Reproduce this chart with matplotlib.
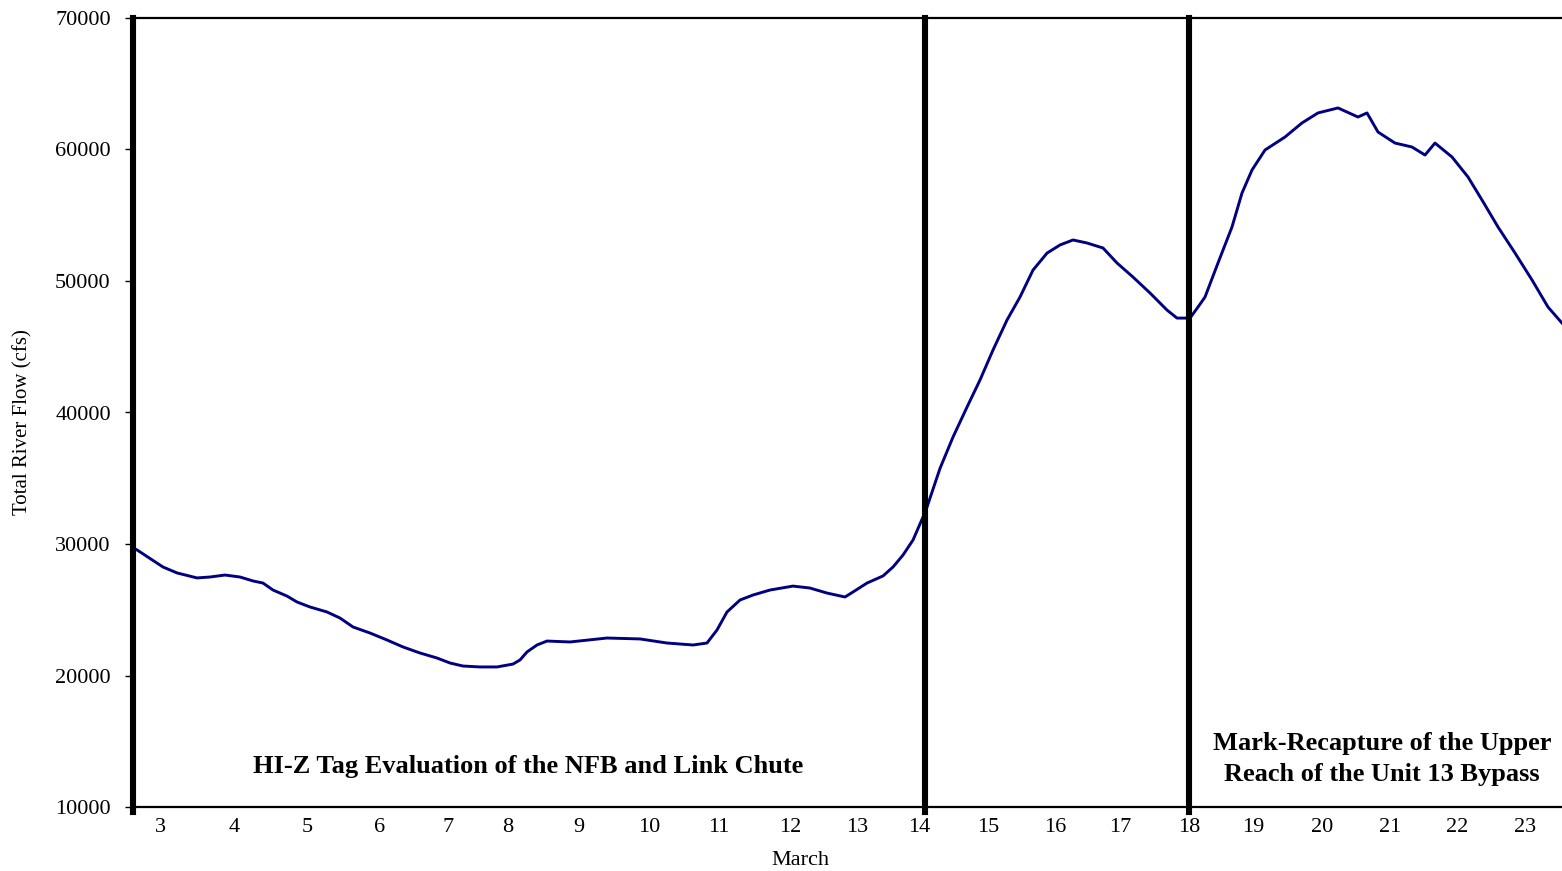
import matplotlib
matplotlib.use('Agg')
import matplotlib.pyplot as plt

# reading index along the record (axis spans 0..1429) and total flow in cfs
reading = [0, 4, 17, 30, 44, 64, 77, 92, 107, 120, 130, 140, 154, 164, 177, 194,
           207, 220, 237, 254, 270, 287, 304, 317, 330, 347, 364, 380, 387, 394,
           404, 414, 437, 474, 507, 534, 560, 574, 584, 594, 607, 620, 637, 660,
           677, 694, 712, 720, 734, 750, 760, 770, 780, 790, 793, 807, 820, 834,
           847, 860, 874, 887, 900, 914, 927, 940, 954, 970, 984, 1000, 1017,
           1034, 1044, 1057, 1065, 1072, 1085, 1099, 1109, 1119, 1132, 1152,
           1169, 1185, 1205, 1225, 1234, 1245, 1262, 1279, 1292, 1302, 1319,
           1335, 1349, 1365, 1382, 1399, 1415, 1429]
flow = [29700, 29550, 28900, 28250, 27800, 27420, 27490, 27640, 27490, 27190,
        27030, 26500, 26040, 25590, 25210, 24830, 24370, 23690, 23230, 22700,
        22170, 21710, 21330, 20950, 20720, 20650, 20650, 20870, 21180, 21790,
        22320, 22620, 22550, 22850, 22780, 22470, 22320, 22470, 23460, 24830,
        25740, 26120, 26500, 26800, 26650, 26270, 25970, 26350, 27030, 27570,
        28250, 29160, 30300, 32050, 32580, 35750, 38130, 40410, 42470, 44750,
        47030, 48780, 50830, 52120, 52740, 53120, 52890, 52510, 51370, 50300,
        49090, 47790, 47180, 47180, 48020, 48780, 51370, 54110, 56690, 58440,
        59960, 60950, 62020, 62780, 63160, 62470, 62780, 61330, 60490, 60190,
        59580, 60490, 59430, 57910, 56160, 54110, 52130, 50080, 48020, 46800]

day_pos = [27, 101, 174, 247, 315, 375, 446, 516, 586, 657, 724, 786, 855, 922,
           987, 1056, 1120, 1189, 1257, 1324, 1392]
day_labels = [str(d) for d in range(3, 24)]

period_breaks = [0, 792, 1056]
study_1 = "HI-Z Tag Evaluation of the NFB and Link Chute"
study_2 = "Mark-Recapture of the Upper\nReach of the Unit 13 Bypass"

plt.rcParams['font.family'] = ['Liberation Serif', 'DejaVu Serif']

fig = plt.figure(figsize=(15.62, 8.71), dpi=100)
ax = fig.add_axes([133 / 1562, 1 - 807 / 871, 1 - 133 / 1562, (807 - 18) / 871])

ax.plot(reading, flow, color='#000080', linewidth=2.1)

for b in period_breaks:
    ax.axvline(b, ymin=-0.006, ymax=1, color='black', linewidth=4.4, clip_on=False, zorder=5)

ax.set_xlim(0, 1429)
ax.set_ylim(10000, 70000)
ax.set_yticks(range(10000, 70001, 10000))
ax.set_xticks(day_pos)
ax.set_xticklabels(day_labels)
ax.tick_params(axis='x', length=0, labelsize=16, pad=8)
ax.tick_params(axis='y', length=6, width=1, labelsize=16, pad=10, direction='out')

ax.spines['right'].set_visible(False)
ax.spines['top'].set_linewidth(1.6)
ax.spines['bottom'].set_linewidth(1.6)
ax.spines['left'].set_linewidth(1.0)

ax.set_xlabel('March', fontsize=16, labelpad=10, x=0.467)
ax.set_ylabel('Total River Flow (cfs)', fontsize=15, labelpad=16, y=0.488)

ax.text(395, 13100, study_1, ha='center', va='center', fontsize=19, fontweight='bold')
ax.text(1249, 13650, study_2, ha='center', va='center', fontsize=19,
        fontweight='bold', linespacing=1.45)

fig.savefig('out.png', dpi=100)
